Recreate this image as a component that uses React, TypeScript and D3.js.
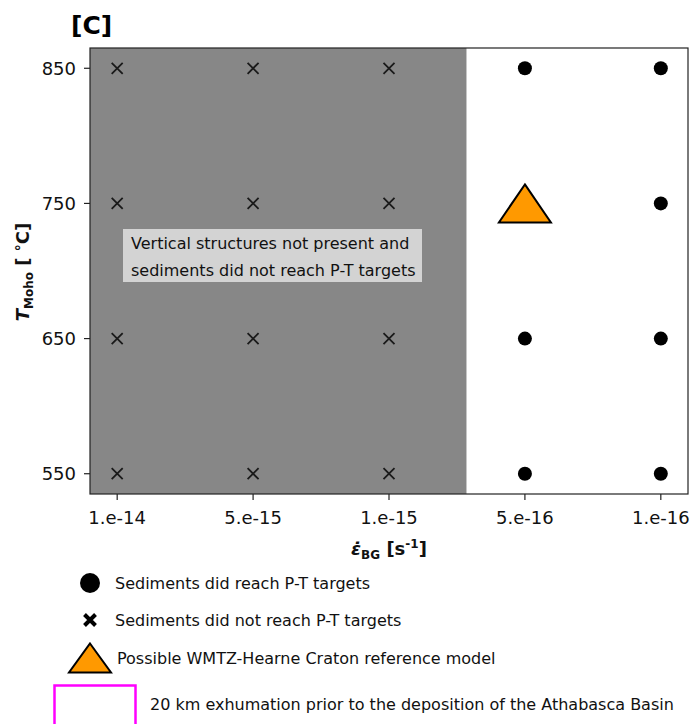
import React from "react";
import * as d3 from "d3";

// strain-rate categories along x, Moho temperatures along y
const strainRates = ["1.e-14", "5.e-15", "1.e-15", "5.e-16", "1.e-16"];
const mohoTemps = [550, 650, 750, 850];

// outcome per model: crosses = did not reach targets, dots = reached targets
const failedRuns = [
  { rate: 0, temp: 550 }, { rate: 0, temp: 650 }, { rate: 0, temp: 750 }, { rate: 0, temp: 850 },
  { rate: 1, temp: 550 }, { rate: 1, temp: 650 }, { rate: 1, temp: 750 }, { rate: 1, temp: 850 },
  { rate: 2, temp: 550 }, { rate: 2, temp: 650 }, { rate: 2, temp: 750 }, { rate: 2, temp: 850 },
];
const successRuns = [
  { rate: 3, temp: 550 }, { rate: 3, temp: 650 }, { rate: 3, temp: 850 },
  { rate: 4, temp: 550 }, { rate: 4, temp: 650 }, { rate: 4, temp: 750 }, { rate: 4, temp: 850 },
];
const referenceRuns = [{ rate: 3, temp: 750 }];

// shaded region in category units
const shadedExtent = [-0.2, 2.57];

const legendItems = [
  "Sediments did reach P-T targets",
  "Sediments did not reach P-T targets",
  "Possible WMTZ-Hearne Craton reference model",
  "20 km exhumation prior to the deposition of the Athabasca Basin",
];

const W = 694;
const H = 724;
const plot = { left: 90, right: 688, top: 48, bottom: 494 };
const FONT = "'DejaVu Sans', Verdana, sans-serif";

export default function App() {
  const x = d3.scaleLinear().domain([-0.2, 4.2]).range([plot.left, plot.right]);
  const y = d3.scaleLinear().domain([535, 865]).range([plot.bottom, plot.top]);

  const crossPath = (cx: number, cy: number, s: number) =>
    `M${cx - s},${cy - s}L${cx + s},${cy + s}M${cx - s},${cy + s}L${cx + s},${cy - s}`;
  const triPath = (cx: number, cy: number, hw: number, hh: number) =>
    `M${cx},${cy - hh}L${cx + hw},${cy + hh}L${cx - hw},${cy + hh}Z`;

  return (
    <svg
      width={W}
      height={H}
      style={{ position: "absolute", left: 0, top: 0, background: "#fff" }}
      fontFamily={FONT}
    >
      <rect x={0} y={0} width={W} height={H} fill="#fff" />
      {/* panel label */}
      <text x={71} y={34} fontSize={25} fontWeight="bold" fill="#000">[C]</text>

      {/* shaded region */}
      <rect
        x={x(shadedExtent[0])}
        y={plot.top}
        width={x(shadedExtent[1]) - x(shadedExtent[0])}
        height={plot.bottom - plot.top}
        fill="#878787"
      />

      {/* annotation box */}
      <rect x={123} y={229} width={299} height={53} fill="#d3d3d3" />
      <text x={131} y={249} fontSize={16} fill="#111">Vertical structures not present and</text>
      <text x={131} y={276} fontSize={16} fill="#111">sediments did not reach P-T targets</text>

      {/* markers */}
      {failedRuns.map((d, i) => (
        <path
          key={"f" + i}
          d={crossPath(x(d.rate), y(d.temp), 5.5)}
          stroke="#1a1a1a"
          strokeWidth={1.8}
          fill="none"
        />
      ))}
      {successRuns.map((d, i) => (
        <circle key={"s" + i} cx={x(d.rate)} cy={y(d.temp)} r={7} fill="#000" />
      ))}
      {referenceRuns.map((d, i) => (
        <path
          key={"r" + i}
          d={triPath(x(d.rate), y(d.temp), 26, 19)}
          fill="#ff9900"
          stroke="#000"
          strokeWidth={2}
        />
      ))}

      {/* frame */}
      <rect
        x={plot.left}
        y={plot.top}
        width={plot.right - plot.left}
        height={plot.bottom - plot.top}
        fill="none"
        stroke="#222"
        strokeWidth={1.2}
      />

      {/* x axis */}
      {strainRates.map((lab, i) => (
        <g key={"xt" + i}>
          <line x1={x(i)} x2={x(i)} y1={plot.bottom} y2={plot.bottom + 6} stroke="#222" strokeWidth={1.2} />
          <text x={x(i)} y={plot.bottom + 30} fontSize={18} textAnchor="middle" fill="#111">{lab}</text>
        </g>
      ))}
      {/* y axis */}
      {mohoTemps.map((v) => (
        <g key={"yt" + v}>
          <line x1={plot.left - 6} x2={plot.left} y1={y(v)} y2={y(v)} stroke="#222" strokeWidth={1.2} />
          <text x={plot.left - 14} y={y(v) + 6.5} fontSize={18} textAnchor="end" fill="#111">{v}</text>
        </g>
      ))}

      {/* x label */}
      <text x={389} y={555} fontSize={18} fontWeight="bold" textAnchor="middle" fill="#111">
        <tspan fontStyle="italic">ε̇</tspan>
        <tspan fontSize={12} dy={4}>BG</tspan>
        <tspan dy={-4}> [s</tspan>
        <tspan fontSize={12} dy={-7}>-1</tspan>
        <tspan dy={7}>]</tspan>
      </text>

      {/* y label */}
      <text
        transform="translate(29,272) rotate(-90)"
        fontSize={18}
        fontWeight="bold"
        textAnchor="middle"
        fill="#111"
      >
        <tspan fontStyle="italic">T</tspan>
        <tspan fontSize={12} dy={4}>Moho</tspan>
        <tspan dy={-4}> [ </tspan>
        <tspan fontSize={14} dy={-3}>°</tspan>
        <tspan dy={3}>C]</tspan>
      </text>

      {/* legend */}
      <circle cx={90} cy={583} r={10} fill="#000" />
      <path d={crossPath(90, 620, 5.5)} stroke="#000" strokeWidth={4} fill="none" />
      <path d={triPath(90, 658, 21, 14.5)} fill="#ff9900" stroke="#000" strokeWidth={2} />
      <rect x={54.5} y={685.5} width={81} height={50} fill="none" stroke="#ff00ff" strokeWidth={2.5} />
      <text x={115} y={589} fontSize={16} fill="#111">{legendItems[0]}</text>
      <text x={115} y={626} fontSize={16} fill="#111">{legendItems[1]}</text>
      <text x={117} y={664} fontSize={16} fill="#111">{legendItems[2]}</text>
      <text x={150} y={710} fontSize={16} fill="#111">{legendItems[3]}</text>
    </svg>
  );
}
